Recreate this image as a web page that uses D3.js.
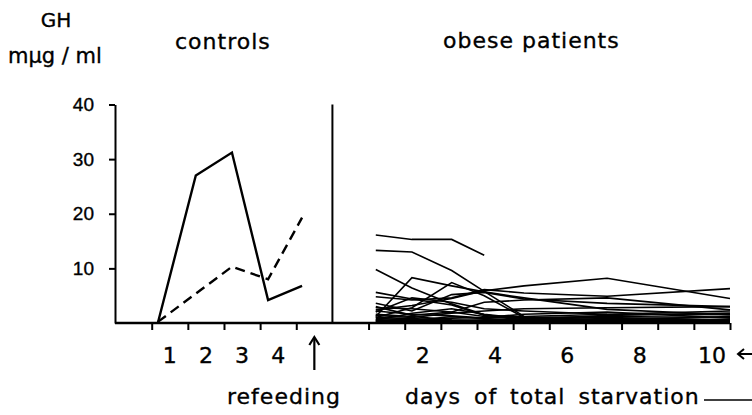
<!DOCTYPE html>
<html>
<head>
<meta charset="utf-8">
<script src="https://cdn.jsdelivr.net/npm/d3@7"></script>
<style>
  body { margin: 0; background: #fff; }
  svg { display: block; font-family: "DejaVu Sans", sans-serif; }
  text { fill: #000; stroke: #000; stroke-width: 0.35px; }
</style>
</head>
<body>
<svg width="752" height="415"></svg>
<script>
// controls: days read in label units (points sit a bit left of the labels)
var controlDays = [0.67, 1.72, 2.72, 3.72, 4.66]
var controlSolid = [0, 27.0, 31.2, 4.2, 6.8]
var controlDashed = [0.2, null, 10.3, 8.0, 19.3]
var controlLabels = ["1", "2", "3", "4"]

// obese patients, one row per patient
var patientDays = [0.7, 1.7, 2.8, 3.7, 4.8, 7.1, 10.5]
var patients = [
  [16.1, 15.3, 15.3, 12.4, null, null, null],
  [13.3, 13.0, 9.6, 5.8, 1.2, null, null],
  [9.8, 6.4, 3.5, 1.5, 0.6, 0.5, 0.5],
  [1.2, 8.3, 6.8, 5.7, 4.6, 2.5, 1.5],
  [1.0, 2.8, 7.4, 5.0, 1.0, 0.6, 0.4],
  [2.4, 3.2, 4.5, 5.9, 6.8, 8.2, 4.5],
  [4.8, 4.2, 4.6, 6.1, 5.5, 4.9, 6.3],
  [3.6, 2.2, 5.2, 5.6, 4.4, 3.6, 3.0],
  [3.0, 1.4, 2.0, 3.8, 4.2, 4.6, 2.4],
  [2.0, 4.6, 3.8, 2.6, 2.2, 1.6, 1.5],
  [5.6, 4.4, 3.3, 1.4, 1.0, 1.2, 1.0],
  [1.4, 1.0, 1.8, 2.2, 2.6, 2.8, 3.0],
  [0.8, 0.6, 0.9, 1.0, 1.6, 2.0, 0.9],
  [0.5, 1.8, 2.6, 1.6, 0.8, 1.0, 0.6],
  [2.8, 2.6, 2.0, 1.2, 0.6, 0.4, 0.3],
  [0.4, 0.5, 0.4, 0.6, 0.5, 0.8, 0.5],
  [1.6, 1.2, 0.6, 0.4, 0.3, 0.4, 0.3],
  [0.2, 0.3, 0.2, 0.3, 0.4, 0.5, 0.4],
  [0.6, 0.4, 1.2, 0.8, 0.5, 0.6, 1.2],
  [1.0, 0.8, 0.5, 0.4, 0.6, 1.4, 1.8],
  [0.3, 0.6, 0.3, 0.2, 0.2, 0.3, 0.2],
  [2.2, 1.6, 1.3, 0.9, 1.2, 1.6, 2.2]
]
var dayLabels = [2, 4, 6, 8, 10]
var yTicks = [10, 20, 30, 40]

var svg = d3.select("svg")
var axisX0 = 115, baseY = 323

// one slot axis: slot 0..4 controls, 5 = divider, 6..16 starvation days
var x = d3.scaleLinear().domain([0, 16]).range([151.7, 730])
var y = d3.scaleLinear().domain([0, 40]).range([baseY, 104.5])
var ctrlX = d => x(d - 0.5)
var dayX = d => x(d + 5.5)

// y axis
var yAxis = d3.axisLeft(y).tickValues(yTicks).tickSize(6).tickSizeOuter(0).tickPadding(15)
var yg = svg.append("g").attr("transform", "translate(" + axisX0 + ",0)").call(yAxis)
yg.select(".domain").attr("stroke-width", 2).attr("stroke", "#000")
yg.selectAll(".tick line").attr("stroke-width", 2).attr("stroke", "#000")
yg.selectAll(".tick text").style("font-size", "19px").attr("fill", "#000").attr("font-family", null)

// x axis: baseline from the y axis, ticks at slots
var tickSlots = d3.range(0, 17).filter(s => s != 5)
var xAxis = d3.axisBottom(x).tickValues(tickSlots).tickSize(7).tickSizeOuter(0).tickFormat("")
var xg = svg.append("g").attr("transform", "translate(0," + baseY + ")").call(xAxis)
xg.select(".domain").remove()
xg.selectAll(".tick line").attr("stroke-width", 2).attr("stroke", "#000")
svg.append("line")
  .attr("x1", axisX0).attr("x2", x(16))
  .attr("y1", baseY).attr("y2", baseY)
  .attr("stroke", "#000").attr("stroke-width", 2.4)

// divider between panels
svg.append("line")
  .attr("x1", x(5)).attr("x2", x(5))
  .attr("y1", y(40)).attr("y2", baseY)
  .attr("stroke", "#000").attr("stroke-width", 2)

// controls
var line = d3.line().x(d => d[0]).y(d => y(d[1]))
function pts(days, vals, fx) {
  return days.map((d, i) => [fx(d), vals[i]]).filter(p => p[1] != null)
}
svg.append("path")
  .attr("d", line(pts(controlDays, controlSolid, ctrlX)))
  .attr("fill", "none").attr("stroke", "#000").attr("stroke-width", 2.4)
svg.append("path")
  .attr("d", line(pts(controlDays, controlDashed, ctrlX)))
  .attr("fill", "none").attr("stroke", "#000").attr("stroke-width", 2.4)
  .attr("stroke-dasharray", "10,6")

// patients
svg.append("g").selectAll("path")
  .data(patients)
  .enter()
  .append("path")
  .attr("d", p => line(pts(patientDays, p, dayX)))
  .attr("fill", "none").attr("stroke", "#000").attr("stroke-width", 1.6)

// x labels
svg.append("g").selectAll("text")
  .data(controlLabels)
  .enter().append("text")
  .attr("x", (d, i) => ctrlX(i + 1))
  .attr("y", 363)
  .attr("text-anchor", "middle")
  .style("font-size", "22px")
  .text(d => d)
svg.append("g").selectAll("text")
  .data(dayLabels)
  .enter().append("text")
  .attr("x", d => dayX(d))
  .attr("y", 363)
  .attr("text-anchor", "middle")
  .style("font-size", "22px")
  .text(d => d)

// refeeding arrow at slot of control day 5
var ax = ctrlX(5)
svg.append("line").attr("x1", ax).attr("x2", ax).attr("y1", 338).attr("y2", 370)
  .attr("stroke", "#000").attr("stroke-width", 2.2)
svg.append("path").attr("d", "M" + (ax - 5) + ",345L" + ax + ",337L" + (ax + 5) + ",345")
  .attr("fill", "none").attr("stroke", "#000").attr("stroke-width", 2.2)

// arrow after 10
svg.append("line").attr("x1", 738).attr("x2", 752).attr("y1", 354).attr("y2", 354)
  .attr("stroke", "#000").attr("stroke-width", 2)
svg.append("path").attr("d", "M744,349L738,354L744,359")
  .attr("fill", "none").attr("stroke", "#000").attr("stroke-width", 2)

// titles
function label(t, xx, yy, anchor, ls) {
  return svg.append("text").attr("x", xx).attr("y", yy)
    .attr("text-anchor", anchor || "start")
    .style("font-size", "22px")
    .style("letter-spacing", (ls == null ? 1 : ls) + "px")
    .text(t)
}
label("GH", 56, 27, "middle", 0).style("font-size", "20px")
label("m\u03bcg / ml", 8, 63, "start", 0).style("font-size", "21px")
label("controls", 175, 49)
label("obese patients", 443, 48)
label("refeeding", 227, 404)
label("days of total starvation", 405, 404).style("word-spacing", "5px")
svg.append("line").attr("x1", 704).attr("x2", 752).attr("y1", 400).attr("y2", 400)
  .attr("stroke", "#000").attr("stroke-width", 1.6)
</script>
</body>
</html>
